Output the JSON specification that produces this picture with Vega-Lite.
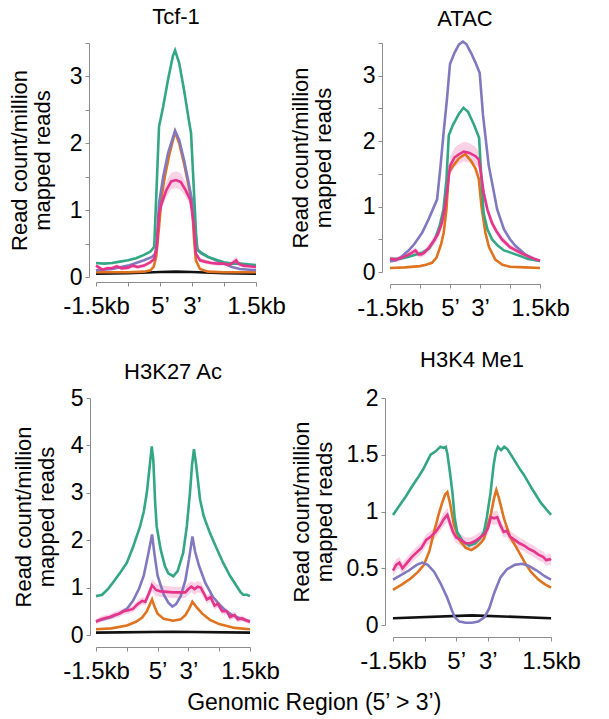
{
"$schema":"https://vega.github.io/schema/vega-lite/v6.json",
"padding":{"left":8,"top":6,"right":5,"bottom":3},
"title":{"text":"Genomic Region (5’ > 3’)","orient":"bottom","anchor":"middle","fontSize":23,"fontWeight":"normal","font":"Liberation Sans","offset":9,"dx":20},
"data":{"values":[
{"p":"T","s":"k","x":0,"y":0.05},{"p":"T","s":"k","x":1,"y":0.055},{"p":"T","s":"k","x":2,"y":0.075},{"p":"T","s":"k","x":2.5,"y":0.08},{"p":"T","s":"k","x":3,"y":0.075},{"p":"T","s":"k","x":4,"y":0.055},{"p":"T","s":"k","x":5,"y":0.05},
{"p":"T","s":"o","x":0,"y":0.07},{"p":"T","s":"o","x":1,"y":0.07},{"p":"T","s":"o","x":1.5,"y":0.08},{"p":"T","s":"o","x":1.7,"y":0.1},{"p":"T","s":"o","x":1.8,"y":0.15},{"p":"T","s":"o","x":1.88,"y":0.3},{"p":"T","s":"o","x":1.97,"y":0.75},{"p":"T","s":"o","x":2.05,"y":1.2},{"p":"T","s":"o","x":2.15,"y":1.5},{"p":"T","s":"o","x":2.3,"y":1.85},{"p":"T","s":"o","x":2.47,"y":2.17},{"p":"T","s":"o","x":2.6,"y":2.0},{"p":"T","s":"o","x":2.75,"y":1.7},{"p":"T","s":"o","x":2.9,"y":1.35},{"p":"T","s":"o","x":3.0,"y":1.1},{"p":"T","s":"o","x":3.06,"y":0.6},{"p":"T","s":"o","x":3.12,"y":0.25},{"p":"T","s":"o","x":3.25,"y":0.12},{"p":"T","s":"o","x":3.5,"y":0.08},{"p":"T","s":"o","x":4,"y":0.07},{"p":"T","s":"o","x":5,"y":0.07},
{"p":"T","s":"v","x":0,"y":0.1},{"p":"T","s":"v","x":0.5,"y":0.12},{"p":"T","s":"v","x":1,"y":0.17},{"p":"T","s":"v","x":1.5,"y":0.25},{"p":"T","s":"v","x":1.75,"y":0.3},{"p":"T","s":"v","x":1.85,"y":0.35},{"p":"T","s":"v","x":1.9,"y":0.5},{"p":"T","s":"v","x":1.97,"y":1.1},{"p":"T","s":"v","x":2.1,"y":1.5},{"p":"T","s":"v","x":2.25,"y":1.85},{"p":"T","s":"v","x":2.47,"y":2.19},{"p":"T","s":"v","x":2.6,"y":2.05},{"p":"T","s":"v","x":2.75,"y":1.75},{"p":"T","s":"v","x":2.9,"y":1.4},{"p":"T","s":"v","x":3.0,"y":1.15},{"p":"T","s":"v","x":3.1,"y":0.7},{"p":"T","s":"v","x":3.18,"y":0.4},{"p":"T","s":"v","x":3.3,"y":0.35},{"p":"T","s":"v","x":3.5,"y":0.3},{"p":"T","s":"v","x":3.75,"y":0.25},{"p":"T","s":"v","x":4,"y":0.2},{"p":"T","s":"v","x":4.25,"y":0.15},{"p":"T","s":"v","x":4.5,"y":0.12},{"p":"T","s":"v","x":5,"y":0.1},
{"p":"T","s":"g","x":0,"y":0.21},{"p":"T","s":"g","x":0.25,"y":0.2},{"p":"T","s":"g","x":0.5,"y":0.21},{"p":"T","s":"g","x":0.75,"y":0.23},{"p":"T","s":"g","x":1,"y":0.25},{"p":"T","s":"g","x":1.25,"y":0.28},{"p":"T","s":"g","x":1.5,"y":0.33},{"p":"T","s":"g","x":1.7,"y":0.38},{"p":"T","s":"g","x":1.82,"y":0.45},{"p":"T","s":"g","x":1.97,"y":2.25},{"p":"T","s":"g","x":2.1,"y":2.55},{"p":"T","s":"g","x":2.25,"y":2.95},{"p":"T","s":"g","x":2.4,"y":3.3},{"p":"T","s":"g","x":2.47,"y":3.39},{"p":"T","s":"g","x":2.6,"y":3.2},{"p":"T","s":"g","x":2.75,"y":2.8},{"p":"T","s":"g","x":2.9,"y":2.35},{"p":"T","s":"g","x":2.97,"y":2.15},{"p":"T","s":"g","x":3.15,"y":0.42},{"p":"T","s":"g","x":3.3,"y":0.36},{"p":"T","s":"g","x":3.5,"y":0.3},{"p":"T","s":"g","x":3.75,"y":0.26},{"p":"T","s":"g","x":4,"y":0.22},{"p":"T","s":"g","x":4.25,"y":0.2},{"p":"T","s":"g","x":4.5,"y":0.2},{"p":"T","s":"g","x":4.75,"y":0.19},{"p":"T","s":"g","x":5,"y":0.18},
{"p":"T","s":"p","x":0,"y":0.17,"lo":0.14,"hi":0.2},{"p":"T","s":"p","x":0.1,"y":0.14,"lo":0.11,"hi":0.17},{"p":"T","s":"p","x":0.2,"y":0.11,"lo":0.08,"hi":0.14},{"p":"T","s":"p","x":0.35,"y":0.13,"lo":0.1,"hi":0.16},{"p":"T","s":"p","x":0.5,"y":0.13,"lo":0.1,"hi":0.16},{"p":"T","s":"p","x":0.65,"y":0.16,"lo":0.13,"hi":0.19},{"p":"T","s":"p","x":0.8,"y":0.13,"lo":0.1,"hi":0.16},{"p":"T","s":"p","x":1.0,"y":0.14,"lo":0.11,"hi":0.17},{"p":"T","s":"p","x":1.15,"y":0.17,"lo":0.14,"hi":0.2},{"p":"T","s":"p","x":1.3,"y":0.15,"lo":0.12,"hi":0.18},{"p":"T","s":"p","x":1.5,"y":0.17,"lo":0.14,"hi":0.2},{"p":"T","s":"p","x":1.7,"y":0.22,"lo":0.19,"hi":0.25},{"p":"T","s":"p","x":1.82,"y":0.27,"lo":0.24,"hi":0.31},{"p":"T","s":"p","x":1.9,"y":0.45,"lo":0.4,"hi":0.5},{"p":"T","s":"p","x":1.97,"y":0.95,"lo":0.88,"hi":1.02},{"p":"T","s":"p","x":2.05,"y":1.1,"lo":1.02,"hi":1.2},{"p":"T","s":"p","x":2.2,"y":1.3,"lo":1.2,"hi":1.42},{"p":"T","s":"p","x":2.35,"y":1.43,"lo":1.31,"hi":1.56},{"p":"T","s":"p","x":2.5,"y":1.45,"lo":1.33,"hi":1.58},{"p":"T","s":"p","x":2.65,"y":1.42,"lo":1.3,"hi":1.55},{"p":"T","s":"p","x":2.8,"y":1.3,"lo":1.2,"hi":1.42},{"p":"T","s":"p","x":2.95,"y":1.15,"lo":1.07,"hi":1.24},{"p":"T","s":"p","x":3.05,"y":0.8,"lo":0.74,"hi":0.86},{"p":"T","s":"p","x":3.12,"y":0.35,"lo":0.31,"hi":0.39},{"p":"T","s":"p","x":3.25,"y":0.25,"lo":0.22,"hi":0.28},{"p":"T","s":"p","x":3.4,"y":0.23,"lo":0.2,"hi":0.26},{"p":"T","s":"p","x":3.6,"y":0.21,"lo":0.18,"hi":0.24},{"p":"T","s":"p","x":3.8,"y":0.2,"lo":0.17,"hi":0.23},{"p":"T","s":"p","x":4.0,"y":0.2,"lo":0.17,"hi":0.23},{"p":"T","s":"p","x":4.15,"y":0.18,"lo":0.15,"hi":0.21},{"p":"T","s":"p","x":4.3,"y":0.22,"lo":0.18,"hi":0.27},{"p":"T","s":"p","x":4.38,"y":0.25,"lo":0.2,"hi":0.31},{"p":"T","s":"p","x":4.45,"y":0.2,"lo":0.16,"hi":0.25},{"p":"T","s":"p","x":4.6,"y":0.17,"lo":0.14,"hi":0.2},{"p":"T","s":"p","x":4.8,"y":0.16,"lo":0.13,"hi":0.19},{"p":"T","s":"p","x":5,"y":0.15,"lo":0.12,"hi":0.18},

{"p":"A","s":"o","x":0,"y":0.06},{"p":"A","s":"o","x":0.5,"y":0.07},{"p":"A","s":"o","x":1.0,"y":0.09},{"p":"A","s":"o","x":1.2,"y":0.11},{"p":"A","s":"o","x":1.4,"y":0.14},{"p":"A","s":"o","x":1.55,"y":0.22},{"p":"A","s":"o","x":1.7,"y":0.42},{"p":"A","s":"o","x":1.79,"y":0.6},{"p":"A","s":"o","x":1.88,"y":0.95},{"p":"A","s":"o","x":1.96,"y":1.52},{"p":"A","s":"o","x":2.1,"y":1.62},{"p":"A","s":"o","x":2.3,"y":1.74},{"p":"A","s":"o","x":2.51,"y":1.8},{"p":"A","s":"o","x":2.7,"y":1.7},{"p":"A","s":"o","x":2.85,"y":1.58},{"p":"A","s":"o","x":2.96,"y":1.42},{"p":"A","s":"o","x":3.05,"y":1.0},{"p":"A","s":"o","x":3.18,"y":0.6},{"p":"A","s":"o","x":3.3,"y":0.38},{"p":"A","s":"o","x":3.51,"y":0.19},{"p":"A","s":"o","x":3.75,"y":0.11},{"p":"A","s":"o","x":4.0,"y":0.08},{"p":"A","s":"o","x":4.5,"y":0.07},{"p":"A","s":"o","x":5,"y":0.06},
{"p":"A","s":"v","x":0,"y":0.16},{"p":"A","s":"v","x":0.2,"y":0.18},{"p":"A","s":"v","x":0.4,"y":0.24},{"p":"A","s":"v","x":0.6,"y":0.32},{"p":"A","s":"v","x":0.8,"y":0.42},{"p":"A","s":"v","x":1.07,"y":0.6},{"p":"A","s":"v","x":1.3,"y":0.82},{"p":"A","s":"v","x":1.57,"y":1.11},{"p":"A","s":"v","x":1.68,"y":1.6},{"p":"A","s":"v","x":1.79,"y":2.14},{"p":"A","s":"v","x":1.9,"y":2.65},{"p":"A","s":"v","x":2.0,"y":3.18},{"p":"A","s":"v","x":2.15,"y":3.35},{"p":"A","s":"v","x":2.3,"y":3.48},{"p":"A","s":"v","x":2.43,"y":3.52},{"p":"A","s":"v","x":2.55,"y":3.48},{"p":"A","s":"v","x":2.7,"y":3.35},{"p":"A","s":"v","x":2.85,"y":3.2},{"p":"A","s":"v","x":2.99,"y":3.04},{"p":"A","s":"v","x":3.1,"y":2.4},{"p":"A","s":"v","x":3.29,"y":1.63},{"p":"A","s":"v","x":3.45,"y":1.25},{"p":"A","s":"v","x":3.57,"y":0.96},{"p":"A","s":"v","x":3.8,"y":0.65},{"p":"A","s":"v","x":4.0,"y":0.5},{"p":"A","s":"v","x":4.18,"y":0.4},{"p":"A","s":"v","x":4.5,"y":0.27},{"p":"A","s":"v","x":4.8,"y":0.2},{"p":"A","s":"v","x":5,"y":0.17},
{"p":"A","s":"g","x":0,"y":0.2},{"p":"A","s":"g","x":0.3,"y":0.2},{"p":"A","s":"g","x":0.6,"y":0.23},{"p":"A","s":"g","x":0.9,"y":0.27},{"p":"A","s":"g","x":1.1,"y":0.3},{"p":"A","s":"g","x":1.3,"y":0.36},{"p":"A","s":"g","x":1.5,"y":0.5},{"p":"A","s":"g","x":1.65,"y":0.7},{"p":"A","s":"g","x":1.78,"y":0.95},{"p":"A","s":"g","x":1.88,"y":1.4},{"p":"A","s":"g","x":1.96,"y":2.09},{"p":"A","s":"g","x":2.1,"y":2.25},{"p":"A","s":"g","x":2.3,"y":2.42},{"p":"A","s":"g","x":2.45,"y":2.51},{"p":"A","s":"g","x":2.6,"y":2.45},{"p":"A","s":"g","x":2.8,"y":2.25},{"p":"A","s":"g","x":2.97,"y":2.05},{"p":"A","s":"g","x":3.05,"y":1.4},{"p":"A","s":"g","x":3.12,"y":0.9},{"p":"A","s":"g","x":3.25,"y":0.65},{"p":"A","s":"g","x":3.4,"y":0.5},{"p":"A","s":"g","x":3.6,"y":0.4},{"p":"A","s":"g","x":3.8,"y":0.33},{"p":"A","s":"g","x":4.0,"y":0.3},{"p":"A","s":"g","x":4.3,"y":0.25},{"p":"A","s":"g","x":4.6,"y":0.2},{"p":"A","s":"g","x":5,"y":0.17},
{"p":"A","s":"p","x":0,"y":0.2,"lo":0.16,"hi":0.24},{"p":"A","s":"p","x":0.2,"y":0.19,"lo":0.15,"hi":0.23},{"p":"A","s":"p","x":0.4,"y":0.22,"lo":0.18,"hi":0.26},{"p":"A","s":"p","x":0.6,"y":0.26,"lo":0.22,"hi":0.3},{"p":"A","s":"p","x":0.75,"y":0.3,"lo":0.25,"hi":0.35},{"p":"A","s":"p","x":0.85,"y":0.33,"lo":0.28,"hi":0.38},{"p":"A","s":"p","x":0.95,"y":0.27,"lo":0.22,"hi":0.32},{"p":"A","s":"p","x":1.05,"y":0.27,"lo":0.22,"hi":0.32},{"p":"A","s":"p","x":1.15,"y":0.3,"lo":0.25,"hi":0.35},{"p":"A","s":"p","x":1.3,"y":0.37,"lo":0.31,"hi":0.43},{"p":"A","s":"p","x":1.45,"y":0.47,"lo":0.4,"hi":0.54},{"p":"A","s":"p","x":1.6,"y":0.58,"lo":0.5,"hi":0.66},{"p":"A","s":"p","x":1.73,"y":0.75,"lo":0.66,"hi":0.84},{"p":"A","s":"p","x":1.82,"y":0.95,"lo":0.85,"hi":1.05},{"p":"A","s":"p","x":1.9,"y":1.22,"lo":1.1,"hi":1.34},{"p":"A","s":"p","x":2.0,"y":1.62,"lo":1.48,"hi":1.76},{"p":"A","s":"p","x":2.15,"y":1.75,"lo":1.6,"hi":1.9},{"p":"A","s":"p","x":2.3,"y":1.8,"lo":1.65,"hi":1.95},{"p":"A","s":"p","x":2.46,"y":1.84,"lo":1.69,"hi":1.99},{"p":"A","s":"p","x":2.65,"y":1.82,"lo":1.67,"hi":1.97},{"p":"A","s":"p","x":2.85,"y":1.77,"lo":1.63,"hi":1.91},{"p":"A","s":"p","x":2.96,"y":1.72,"lo":1.6,"hi":1.84},{"p":"A","s":"p","x":3.05,"y":1.45,"lo":1.35,"hi":1.55},{"p":"A","s":"p","x":3.12,"y":1.22,"lo":1.13,"hi":1.31},{"p":"A","s":"p","x":3.25,"y":0.95,"lo":0.88,"hi":1.02},{"p":"A","s":"p","x":3.4,"y":0.75,"lo":0.69,"hi":0.81},{"p":"A","s":"p","x":3.55,"y":0.62,"lo":0.57,"hi":0.67},{"p":"A","s":"p","x":3.73,"y":0.5,"lo":0.45,"hi":0.55},{"p":"A","s":"p","x":4.0,"y":0.38,"lo":0.34,"hi":0.42},{"p":"A","s":"p","x":4.4,"y":0.28,"lo":0.24,"hi":0.32},{"p":"A","s":"p","x":4.7,"y":0.22,"lo":0.19,"hi":0.25},{"p":"A","s":"p","x":5,"y":0.17,"lo":0.14,"hi":0.2},

{"p":"K","s":"k","x":0,"y":0.05},{"p":"K","s":"k","x":2.5,"y":0.07},{"p":"K","s":"k","x":5,"y":0.05},
{"p":"K","s":"o","x":0,"y":0.12},{"p":"K","s":"o","x":0.5,"y":0.14},{"p":"K","s":"o","x":1.0,"y":0.2},{"p":"K","s":"o","x":1.3,"y":0.28},{"p":"K","s":"o","x":1.5,"y":0.37},{"p":"K","s":"o","x":1.65,"y":0.5},{"p":"K","s":"o","x":1.75,"y":0.65},{"p":"K","s":"o","x":1.82,"y":0.75},{"p":"K","s":"o","x":1.9,"y":0.6},{"p":"K","s":"o","x":2.0,"y":0.45},{"p":"K","s":"o","x":2.2,"y":0.34},{"p":"K","s":"o","x":2.5,"y":0.3},{"p":"K","s":"o","x":2.75,"y":0.33},{"p":"K","s":"o","x":2.9,"y":0.42},{"p":"K","s":"o","x":3.02,"y":0.55},{"p":"K","s":"o","x":3.13,"y":0.7},{"p":"K","s":"o","x":3.25,"y":0.6},{"p":"K","s":"o","x":3.45,"y":0.45},{"p":"K","s":"o","x":3.7,"y":0.32},{"p":"K","s":"o","x":4.0,"y":0.23},{"p":"K","s":"o","x":4.5,"y":0.15},{"p":"K","s":"o","x":5,"y":0.12},
{"p":"K","s":"v","x":0,"y":0.29},{"p":"K","s":"v","x":0.25,"y":0.33},{"p":"K","s":"v","x":0.5,"y":0.38},{"p":"K","s":"v","x":0.75,"y":0.45},{"p":"K","s":"v","x":1.0,"y":0.55},{"p":"K","s":"v","x":1.2,"y":0.72},{"p":"K","s":"v","x":1.4,"y":0.98},{"p":"K","s":"v","x":1.55,"y":1.25},{"p":"K","s":"v","x":1.7,"y":1.72},{"p":"K","s":"v","x":1.82,"y":2.12},{"p":"K","s":"v","x":1.9,"y":1.7},{"p":"K","s":"v","x":2.0,"y":1.25},{"p":"K","s":"v","x":2.2,"y":0.85},{"p":"K","s":"v","x":2.35,"y":0.68},{"p":"K","s":"v","x":2.48,"y":0.6},{"p":"K","s":"v","x":2.6,"y":0.65},{"p":"K","s":"v","x":2.75,"y":0.82},{"p":"K","s":"v","x":2.9,"y":1.15},{"p":"K","s":"v","x":3.02,"y":1.6},{"p":"K","s":"v","x":3.13,"y":2.08},{"p":"K","s":"v","x":3.22,"y":1.75},{"p":"K","s":"v","x":3.35,"y":1.45},{"p":"K","s":"v","x":3.55,"y":1.1},{"p":"K","s":"v","x":3.8,"y":0.8},{"p":"K","s":"v","x":4.0,"y":0.65},{"p":"K","s":"v","x":4.2,"y":0.52},{"p":"K","s":"v","x":4.4,"y":0.43},{"p":"K","s":"v","x":4.6,"y":0.37},{"p":"K","s":"v","x":4.8,"y":0.32},{"p":"K","s":"v","x":5,"y":0.29},
{"p":"K","s":"g","x":0,"y":0.82},{"p":"K","s":"g","x":0.2,"y":0.85},{"p":"K","s":"g","x":0.4,"y":0.98},{"p":"K","s":"g","x":0.6,"y":1.15},{"p":"K","s":"g","x":0.8,"y":1.33},{"p":"K","s":"g","x":1.0,"y":1.52},{"p":"K","s":"g","x":1.2,"y":1.85},{"p":"K","s":"g","x":1.43,"y":2.29},{"p":"K","s":"g","x":1.55,"y":2.6},{"p":"K","s":"g","x":1.65,"y":3.0},{"p":"K","s":"g","x":1.75,"y":3.6},{"p":"K","s":"g","x":1.81,"y":3.98},{"p":"K","s":"g","x":1.86,"y":3.7},{"p":"K","s":"g","x":1.92,"y":2.8},{"p":"K","s":"g","x":1.97,"y":2.29},{"p":"K","s":"g","x":2.1,"y":1.8},{"p":"K","s":"g","x":2.24,"y":1.45},{"p":"K","s":"g","x":2.35,"y":1.3},{"p":"K","s":"g","x":2.51,"y":1.24},{"p":"K","s":"g","x":2.65,"y":1.35},{"p":"K","s":"g","x":2.83,"y":1.73},{"p":"K","s":"g","x":2.95,"y":2.3},{"p":"K","s":"g","x":3.05,"y":3.0},{"p":"K","s":"g","x":3.12,"y":3.6},{"p":"K","s":"g","x":3.18,"y":3.92},{"p":"K","s":"g","x":3.25,"y":3.6},{"p":"K","s":"g","x":3.38,"y":2.85},{"p":"K","s":"g","x":3.5,"y":2.5},{"p":"K","s":"g","x":3.7,"y":2.15},{"p":"K","s":"g","x":3.9,"y":1.85},{"p":"K","s":"g","x":4.13,"y":1.52},{"p":"K","s":"g","x":4.35,"y":1.25},{"p":"K","s":"g","x":4.57,"y":1.03},{"p":"K","s":"g","x":4.7,"y":0.9},{"p":"K","s":"g","x":4.78,"y":0.85},{"p":"K","s":"g","x":4.9,"y":0.85},{"p":"K","s":"g","x":5,"y":0.82},
{"p":"K","s":"p","x":0,"y":0.28,"lo":0.22,"hi":0.34},{"p":"K","s":"p","x":0.15,"y":0.33,"lo":0.27,"hi":0.39},{"p":"K","s":"p","x":0.3,"y":0.36,"lo":0.3,"hi":0.42},{"p":"K","s":"p","x":0.45,"y":0.38,"lo":0.32,"hi":0.44},{"p":"K","s":"p","x":0.6,"y":0.42,"lo":0.35,"hi":0.49},{"p":"K","s":"p","x":0.75,"y":0.45,"lo":0.38,"hi":0.52},{"p":"K","s":"p","x":0.9,"y":0.5,"lo":0.43,"hi":0.57},{"p":"K","s":"p","x":1.05,"y":0.52,"lo":0.45,"hi":0.59},{"p":"K","s":"p","x":1.2,"y":0.55,"lo":0.48,"hi":0.62},{"p":"K","s":"p","x":1.35,"y":0.65,"lo":0.57,"hi":0.73},{"p":"K","s":"p","x":1.5,"y":0.72,"lo":0.64,"hi":0.8},{"p":"K","s":"p","x":1.6,"y":0.7,"lo":0.62,"hi":0.78},{"p":"K","s":"p","x":1.72,"y":0.88,"lo":0.78,"hi":0.98},{"p":"K","s":"p","x":1.82,"y":1.05,"lo":0.92,"hi":1.18},{"p":"K","s":"p","x":1.95,"y":0.95,"lo":0.82,"hi":1.08},{"p":"K","s":"p","x":2.1,"y":0.92,"lo":0.8,"hi":1.05},{"p":"K","s":"p","x":2.5,"y":0.9,"lo":0.78,"hi":1.02},{"p":"K","s":"p","x":2.9,"y":0.9,"lo":0.78,"hi":1.02},{"p":"K","s":"p","x":3.0,"y":0.97,"lo":0.85,"hi":1.09},{"p":"K","s":"p","x":3.1,"y":1.02,"lo":0.9,"hi":1.14},{"p":"K","s":"p","x":3.2,"y":0.97,"lo":0.85,"hi":1.09},{"p":"K","s":"p","x":3.3,"y":1.02,"lo":0.9,"hi":1.14},{"p":"K","s":"p","x":3.4,"y":1.0,"lo":0.88,"hi":1.12},{"p":"K","s":"p","x":3.5,"y":0.88,"lo":0.78,"hi":0.98},{"p":"K","s":"p","x":3.6,"y":0.75,"lo":0.66,"hi":0.84},{"p":"K","s":"p","x":3.72,"y":0.8,"lo":0.71,"hi":0.89},{"p":"K","s":"p","x":3.85,"y":0.62,"lo":0.54,"hi":0.7},{"p":"K","s":"p","x":3.95,"y":0.66,"lo":0.58,"hi":0.74},{"p":"K","s":"p","x":4.1,"y":0.5,"lo":0.43,"hi":0.57},{"p":"K","s":"p","x":4.25,"y":0.5,"lo":0.43,"hi":0.57},{"p":"K","s":"p","x":4.35,"y":0.38,"lo":0.31,"hi":0.45},{"p":"K","s":"p","x":4.5,"y":0.42,"lo":0.35,"hi":0.49},{"p":"K","s":"p","x":4.6,"y":0.33,"lo":0.27,"hi":0.39},{"p":"K","s":"p","x":4.75,"y":0.35,"lo":0.29,"hi":0.41},{"p":"K","s":"p","x":4.9,"y":0.3,"lo":0.25,"hi":0.35},{"p":"K","s":"p","x":5,"y":0.28,"lo":0.23,"hi":0.33},

{"p":"M","s":"k","x":0,"y":0.06},{"p":"M","s":"k","x":2.5,"y":0.085},{"p":"M","s":"k","x":5,"y":0.06},
{"p":"M","s":"o","x":0,"y":0.31},{"p":"M","s":"o","x":0.3,"y":0.36},{"p":"M","s":"o","x":0.56,"y":0.41},{"p":"M","s":"o","x":0.8,"y":0.47},{"p":"M","s":"o","x":0.98,"y":0.53},{"p":"M","s":"o","x":1.15,"y":0.65},{"p":"M","s":"o","x":1.3,"y":0.82},{"p":"M","s":"o","x":1.45,"y":0.98},{"p":"M","s":"o","x":1.56,"y":1.08},{"p":"M","s":"o","x":1.65,"y":1.15},{"p":"M","s":"o","x":1.72,"y":1.17},{"p":"M","s":"o","x":1.8,"y":1.08},{"p":"M","s":"o","x":1.93,"y":0.88},{"p":"M","s":"o","x":2.1,"y":0.75},{"p":"M","s":"o","x":2.3,"y":0.68},{"p":"M","s":"o","x":2.48,"y":0.66},{"p":"M","s":"o","x":2.65,"y":0.69},{"p":"M","s":"o","x":2.8,"y":0.73},{"p":"M","s":"o","x":2.88,"y":0.76},{"p":"M","s":"o","x":3.0,"y":0.88},{"p":"M","s":"o","x":3.1,"y":0.98},{"p":"M","s":"o","x":3.2,"y":1.12},{"p":"M","s":"o","x":3.27,"y":1.19},{"p":"M","s":"o","x":3.35,"y":1.12},{"p":"M","s":"o","x":3.51,"y":0.94},{"p":"M","s":"o","x":3.7,"y":0.78},{"p":"M","s":"o","x":3.93,"y":0.67},{"p":"M","s":"o","x":4.15,"y":0.56},{"p":"M","s":"o","x":4.36,"y":0.47},{"p":"M","s":"o","x":4.6,"y":0.4},{"p":"M","s":"o","x":4.8,"y":0.36},{"p":"M","s":"o","x":5,"y":0.33},
{"p":"M","s":"v","x":0,"y":0.4},{"p":"M","s":"v","x":0.25,"y":0.44},{"p":"M","s":"v","x":0.5,"y":0.48},{"p":"M","s":"v","x":0.75,"y":0.53},{"p":"M","s":"v","x":0.93,"y":0.55},{"p":"M","s":"v","x":1.1,"y":0.53},{"p":"M","s":"v","x":1.3,"y":0.47},{"p":"M","s":"v","x":1.5,"y":0.37},{"p":"M","s":"v","x":1.7,"y":0.25},{"p":"M","s":"v","x":1.85,"y":0.14},{"p":"M","s":"v","x":1.95,"y":0.07},{"p":"M","s":"v","x":2.1,"y":0.03},{"p":"M","s":"v","x":2.3,"y":0.02},{"p":"M","s":"v","x":2.5,"y":0.02},{"p":"M","s":"v","x":2.7,"y":0.03},{"p":"M","s":"v","x":2.9,"y":0.07},{"p":"M","s":"v","x":3.05,"y":0.15},{"p":"M","s":"v","x":3.2,"y":0.28},{"p":"M","s":"v","x":3.4,"y":0.42},{"p":"M","s":"v","x":3.6,"y":0.49},{"p":"M","s":"v","x":3.85,"y":0.53},{"p":"M","s":"v","x":4.09,"y":0.54},{"p":"M","s":"v","x":4.3,"y":0.52},{"p":"M","s":"v","x":4.55,"y":0.48},{"p":"M","s":"v","x":4.8,"y":0.43},{"p":"M","s":"v","x":5,"y":0.4},
{"p":"M","s":"g","x":0,"y":0.97},{"p":"M","s":"g","x":0.2,"y":1.05},{"p":"M","s":"g","x":0.4,"y":1.13},{"p":"M","s":"g","x":0.6,"y":1.22},{"p":"M","s":"g","x":0.77,"y":1.29},{"p":"M","s":"g","x":0.95,"y":1.37},{"p":"M","s":"g","x":1.19,"y":1.5},{"p":"M","s":"g","x":1.35,"y":1.53},{"p":"M","s":"g","x":1.5,"y":1.57},{"p":"M","s":"g","x":1.6,"y":1.56},{"p":"M","s":"g","x":1.67,"y":1.57},{"p":"M","s":"g","x":1.72,"y":1.51},{"p":"M","s":"g","x":1.8,"y":1.35},{"p":"M","s":"g","x":1.88,"y":1.17},{"p":"M","s":"g","x":1.95,"y":0.95},{"p":"M","s":"g","x":2.03,"y":0.82},{"p":"M","s":"g","x":2.2,"y":0.74},{"p":"M","s":"g","x":2.41,"y":0.7},{"p":"M","s":"g","x":2.6,"y":0.72},{"p":"M","s":"g","x":2.75,"y":0.76},{"p":"M","s":"g","x":2.88,"y":0.82},{"p":"M","s":"g","x":2.97,"y":0.95},{"p":"M","s":"g","x":3.09,"y":1.17},{"p":"M","s":"g","x":3.18,"y":1.4},{"p":"M","s":"g","x":3.25,"y":1.52},{"p":"M","s":"g","x":3.32,"y":1.57},{"p":"M","s":"g","x":3.42,"y":1.54},{"p":"M","s":"g","x":3.52,"y":1.57},{"p":"M","s":"g","x":3.62,"y":1.55},{"p":"M","s":"g","x":3.8,"y":1.47},{"p":"M","s":"g","x":4.0,"y":1.38},{"p":"M","s":"g","x":4.15,"y":1.32},{"p":"M","s":"g","x":4.4,"y":1.2},{"p":"M","s":"g","x":4.67,"y":1.08},{"p":"M","s":"g","x":4.85,"y":1.02},{"p":"M","s":"g","x":5,"y":0.97},
{"p":"M","s":"p","x":0,"y":0.48,"lo":0.43,"hi":0.53},{"p":"M","s":"p","x":0.1,"y":0.53,"lo":0.48,"hi":0.58},{"p":"M","s":"p","x":0.2,"y":0.55,"lo":0.5,"hi":0.6},{"p":"M","s":"p","x":0.3,"y":0.5,"lo":0.45,"hi":0.55},{"p":"M","s":"p","x":0.45,"y":0.55,"lo":0.5,"hi":0.6},{"p":"M","s":"p","x":0.6,"y":0.6,"lo":0.55,"hi":0.65},{"p":"M","s":"p","x":0.75,"y":0.64,"lo":0.59,"hi":0.69},{"p":"M","s":"p","x":0.9,"y":0.68,"lo":0.63,"hi":0.73},{"p":"M","s":"p","x":1.05,"y":0.75,"lo":0.7,"hi":0.8},{"p":"M","s":"p","x":1.2,"y":0.78,"lo":0.73,"hi":0.83},{"p":"M","s":"p","x":1.35,"y":0.82,"lo":0.77,"hi":0.87},{"p":"M","s":"p","x":1.5,"y":0.88,"lo":0.83,"hi":0.93},{"p":"M","s":"p","x":1.6,"y":0.93,"lo":0.87,"hi":0.99},{"p":"M","s":"p","x":1.72,"y":0.97,"lo":0.91,"hi":1.03},{"p":"M","s":"p","x":1.8,"y":0.9,"lo":0.84,"hi":0.96},{"p":"M","s":"p","x":1.9,"y":0.82,"lo":0.77,"hi":0.87},{"p":"M","s":"p","x":2.0,"y":0.77,"lo":0.72,"hi":0.82},{"p":"M","s":"p","x":2.15,"y":0.75,"lo":0.7,"hi":0.8},{"p":"M","s":"p","x":2.3,"y":0.72,"lo":0.67,"hi":0.77},{"p":"M","s":"p","x":2.45,"y":0.72,"lo":0.67,"hi":0.77},{"p":"M","s":"p","x":2.6,"y":0.74,"lo":0.69,"hi":0.79},{"p":"M","s":"p","x":2.75,"y":0.77,"lo":0.72,"hi":0.82},{"p":"M","s":"p","x":2.9,"y":0.8,"lo":0.75,"hi":0.85},{"p":"M","s":"p","x":3.0,"y":0.85,"lo":0.8,"hi":0.9},{"p":"M","s":"p","x":3.1,"y":0.95,"lo":0.89,"hi":1.01},{"p":"M","s":"p","x":3.2,"y":0.94,"lo":0.88,"hi":1.0},{"p":"M","s":"p","x":3.3,"y":0.95,"lo":0.89,"hi":1.01},{"p":"M","s":"p","x":3.4,"y":0.88,"lo":0.83,"hi":0.93},{"p":"M","s":"p","x":3.5,"y":0.82,"lo":0.77,"hi":0.87},{"p":"M","s":"p","x":3.6,"y":0.83,"lo":0.78,"hi":0.88},{"p":"M","s":"p","x":3.7,"y":0.78,"lo":0.73,"hi":0.83},{"p":"M","s":"p","x":3.85,"y":0.75,"lo":0.7,"hi":0.8},{"p":"M","s":"p","x":4.0,"y":0.72,"lo":0.67,"hi":0.77},{"p":"M","s":"p","x":4.15,"y":0.7,"lo":0.65,"hi":0.75},{"p":"M","s":"p","x":4.3,"y":0.67,"lo":0.62,"hi":0.72},{"p":"M","s":"p","x":4.45,"y":0.65,"lo":0.6,"hi":0.7},{"p":"M","s":"p","x":4.6,"y":0.62,"lo":0.57,"hi":0.67},{"p":"M","s":"p","x":4.75,"y":0.6,"lo":0.55,"hi":0.65},{"p":"M","s":"p","x":4.85,"y":0.57,"lo":0.52,"hi":0.62},{"p":"M","s":"p","x":4.95,"y":0.58,"lo":0.53,"hi":0.63},{"p":"M","s":"p","x":5,"y":0.57,"lo":0.52,"hi":0.62}
]},
"spacing":29,
"vconcat":[
{"hconcat":[
{"width":160,"height":234,"title":{"text":"Tcf-1","offset":3},
 "transform":[{"filter":"datum.p==='T'"}],
 "encoding":{
  "x":{"field":"x","type":"quantitative","scale":{"domain":[0,5],"nice":false},"axis":{"values":[0,1,2,3,4,5],"labelExpr":"datum.value===0?'-1.5kb':datum.value===2?'5’':datum.value===3?'3’':datum.value===5?'1.5kb':''","offset":5,"title":null}},
  "y":{"field":"y","type":"quantitative","scale":{"domain":[0,3.5],"nice":false},"axis":{"values":[0,0.5,1,1.5,2,2.5,3,3.5],"format":"~g","labelExpr":"datum.value%1===0?datum.label:''","offset":7,"title":["Read count/million","mapped reads"],"titlePadding":15}}},
 "layer":[
  {"transform":[{"filter":"isValid(datum.lo)"}],"mark":{"type":"area","color":"#e7348b","opacity":0.22},"encoding":{"y":{"field":"lo","type":"quantitative"},"y2":{"field":"hi"}}},
  {"mark":{"type":"line","strokeWidth":2.6},"encoding":{"color":{"field":"s","type":"nominal","scale":{"domain":["k","o","v","g","p"],"range":["#111111","#e0731f","#8079c0","#33a683","#e7348b"]},"legend":null}}}
 ]},
{"width":150,"height":229,"title":{"text":"ATAC","offset":1},
 "transform":[{"filter":"datum.p==='A'"}],
 "encoding":{
  "x":{"field":"x","type":"quantitative","scale":{"domain":[0,5],"nice":false},"axis":{"values":[0,1,2,3,4,5],"labelExpr":"datum.value===0?'-1.5kb':datum.value===2?'5’':datum.value===3?'3’':datum.value===5?'1.5kb':''","offset":12,"title":null}},
  "y":{"field":"y","type":"quantitative","scale":{"domain":[0,3.5],"nice":false},"axis":{"values":[0,0.5,1,1.5,2,2.5,3,3.5],"format":"~g","labelExpr":"datum.value%1===0?datum.label:''","offset":8,"title":["Read count/million","mapped reads"],"titlePadding":27}}},
 "layer":[
  {"transform":[{"filter":"isValid(datum.lo)"}],"mark":{"type":"area","color":"#e7348b","opacity":0.22},"encoding":{"y":{"field":"lo","type":"quantitative"},"y2":{"field":"hi"}}},
  {"mark":{"type":"line","strokeWidth":2.6},"encoding":{"color":{"field":"s","type":"nominal","scale":{"domain":["k","o","v","g","p"],"range":["#111111","#e0731f","#8079c0","#33a683","#e7348b"]},"legend":null}}}
 ]}
],"spacing":3},
{"hconcat":[
{"width":154,"height":237,"title":{"text":"H3K27 Ac","offset":3},
 "transform":[{"filter":"datum.p==='K'"}],
 "encoding":{
  "x":{"field":"x","type":"quantitative","scale":{"domain":[0,5],"nice":false},"axis":{"values":[0,1,2,3,4,5],"labelExpr":"datum.value===0?'-1.5kb':datum.value===2?'5’':datum.value===3?'3’':datum.value===5?'1.5kb':''","offset":12,"title":null}},
  "y":{"field":"y","type":"quantitative","scale":{"domain":[0,5],"nice":false},"axis":{"values":[0,1,2,3,4,5],"format":"~g","offset":6,"title":["Read count/million","mapped reads"],"titlePadding":12}}},
 "layer":[
  {"transform":[{"filter":"isValid(datum.lo)"}],"mark":{"type":"area","color":"#e7348b","opacity":0.22},"encoding":{"y":{"field":"lo","type":"quantitative"},"y2":{"field":"hi"}}},
  {"mark":{"type":"line","strokeWidth":2.6},"encoding":{"color":{"field":"s","type":"nominal","scale":{"domain":["k","o","v","g","p"],"range":["#111111","#e0731f","#8079c0","#33a683","#e7348b"]},"legend":null}}}
 ]},
{"width":158,"height":227,"title":{"text":"H3K4 Me1","offset":15},
 "transform":[{"filter":"datum.p==='M'"}],
 "encoding":{
  "x":{"field":"x","type":"quantitative","scale":{"domain":[0,5],"nice":false},"axis":{"values":[0,1,2,3,4,5],"labelExpr":"datum.value===0?'-1.5kb':datum.value===2?'5’':datum.value===3?'3’':datum.value===5?'1.5kb':''","offset":12,"title":null}},
  "y":{"field":"y","type":"quantitative","scale":{"domain":[0,2],"nice":false},"axis":{"values":[0,0.5,1,1.5,2],"format":"~g","offset":8,"title":["Read count/million","mapped reads"],"titlePadding":10}}},
 "layer":[
  {"transform":[{"filter":"isValid(datum.lo)"}],"mark":{"type":"area","color":"#e7348b","opacity":0.22},"encoding":{"y":{"field":"lo","type":"quantitative"},"y2":{"field":"hi"}}},
  {"mark":{"type":"line","strokeWidth":2.6},"encoding":{"color":{"field":"s","type":"nominal","scale":{"domain":["k","o","v","g","p"],"range":["#111111","#e0731f","#8079c0","#33a683","#e7348b"]},"legend":null}}}
 ]}
],"spacing":10}
],
"config":{
 "view":{"stroke":null},
 "font":"Liberation Sans",
 "title":{"fontSize":22,"fontWeight":"normal","font":"Liberation Sans","color":"#000"},
 "axis":{"grid":false,"labelFontSize":23,"labelFont":"Liberation Sans","titleFont":"Liberation Sans","titleFontSize":22,"titleFontWeight":"normal","titleColor":"#000","labelColor":"#000","domainColor":"#8c8c8c","tickColor":"#8c8c8c","tickSize":4,"labelPadding":3,"titleLineHeight":23,"labelFlush":false,"labelOverlap":false},
 "axisX":{"labelFont":"Liberation Sans Narrow, Liberation Sans","labelFontSize":24,"labelPadding":8}
}
}
